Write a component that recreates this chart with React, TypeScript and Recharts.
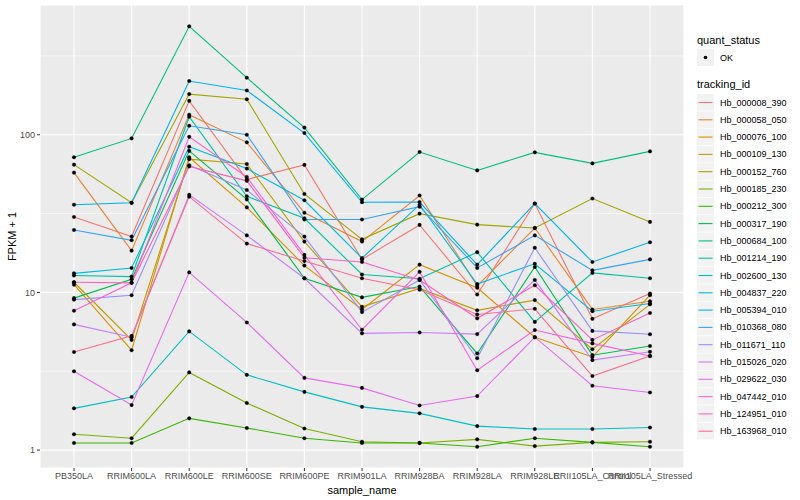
import { LineChart, Line, XAxis, YAxis, CartesianGrid, ReferenceLine } from "recharts";

const samples = [
  "PB350LA",
  "RRIM600LA",
  "RRIM600LE",
  "RRIM600SE",
  "RRIM600PE",
  "RRIM901LA",
  "RRIM928BA",
  "RRIM928LA",
  "RRIM928LE",
  "RRII105LA_Control",
  "RRII105LA_Stressed",
];

const trackingIds = [
  "Hb_000008_390",
  "Hb_000058_050",
  "Hb_000076_100",
  "Hb_000109_130",
  "Hb_000152_760",
  "Hb_000185_230",
  "Hb_000212_300",
  "Hb_000317_190",
  "Hb_000684_100",
  "Hb_001214_190",
  "Hb_002600_130",
  "Hb_004837_220",
  "Hb_005394_010",
  "Hb_010368_080",
  "Hb_011671_110",
  "Hb_015026_020",
  "Hb_029622_030",
  "Hb_047442_010",
  "Hb_124951_010",
  "Hb_163968_010",
];

// ggplot hue palette, 20 levels
const colors = [
  "#F8766D", "#EA8331", "#D89000", "#C09B00", "#A3A500",
  "#7CAE00", "#39B600", "#00BB4E", "#00BF7D", "#00C1A3",
  "#00BFC4", "#00BAE0", "#00B0F6", "#35A2FF", "#9590FF",
  "#C77CFF", "#E76BF3", "#FA62DB", "#FF62BC", "#FF6C91",
];

// FPKM + 1 per sample, same order as samples
const hb000008 = [30.1, 22.6, 164, 52, 64.4, 16.2, 26.8, 9.7, 36.6, 6.8, 9.84];
const hb000058 = [57.5, 18.4, 134, 89.5, 32, 21.0, 41.2, 11.0, 25.6, 7.8, 8.8];
const hb000076 = [11.2, 4.3, 72, 34.6, 14.8, 7.8, 15.0, 10.7, 5.2, 3.9, 9.6];
const hb000109 = [11.6, 5.0, 70, 65.3, 21.0, 8.1, 10.6, 7.7, 8.94, 4.36, 8.4];
const hb000152 = [64.6, 37, 181, 168, 42.1, 21.7, 31.6, 26.9, 25.6, 39.4, 28];
const hb000185 = [1.26, 1.19, 3.11, 1.99, 1.37, 1.13, 1.11, 1.17, 1.06, 1.12, 1.13];
const hb000212 = [1.11, 1.11, 1.59, 1.38, 1.19, 1.11, 1.11, 1.05, 1.19, 1.12, 1.05];
const hb000317 = [9.2, 12.1, 79, 38.9, 12.3, 9.3, 10.9, 4.1, 14.5, 4.0, 4.57];
const hb000684 = [72, 94.8, 487, 230, 111, 38.8, 77.7, 59.4, 77.3, 65.8, 78.4];
const hb001214 = [12.8, 12.6, 130, 40.7, 29.5, 13.0, 12.2, 18.0, 6.5, 13.3, 12.3];
const hb002600 = [1.84, 2.17, 5.66, 3.0, 2.34, 1.88, 1.71, 1.42, 1.36, 1.36, 1.39];
const hb004837 = [13.2, 14.3, 84, 61, 38.4, 16.5, 36, 11.3, 15.2, 7.6, 8.5];
const hb005394 = [36, 37, 219, 191, 102.5, 37.3, 37.4, 15.0, 36.6, 15.6, 20.8];
const hb010368 = [24.9, 21.4, 114, 100, 29, 29, 35, 14.3, 23.0, 13.8, 16.2];
const hb011671 = [9.0, 9.6, 64, 44.6, 22.6, 7.5, 12.0, 3.82, 19.2, 5.7, 5.43];
const hb015026 = [6.27, 5.2, 41.6, 23, 12.3, 5.5, 5.57, 5.44, 12.0, 3.72, 4.2];
const hb029622 = [3.16, 1.93, 13.4, 6.45, 2.87, 2.48, 1.92, 2.2, 5.2, 2.56, 2.32];
const hb047442 = [7.66, 11.5, 97, 54, 17.3, 5.8, 13.5, 3.21, 5.77, 4.75, 3.95];
const hb124951 = [11.6, 11.5, 63, 51, 16.6, 15.6, 12.0, 6.85, 11.1, 5.0, 7.4];
const hb163968 = [4.19, 5.3, 40.5, 20.4, 15.8, 12.3, 10.4, 7.25, 7.87, 2.95, 3.95];

const seriesValues = [
  hb000008, hb000058, hb000076, hb000109, hb000152,
  hb000185, hb000212, hb000317, hb000684, hb001214,
  hb002600, hb004837, hb005394, hb010368, hb011671,
  hb015026, hb029622, hb047442, hb124951, hb163968,
];

const majorBreaks = [1, 10, 100];
const minorBreaks = [3.162, 31.62, 316.2];

const data = samples.map((s, i) => {
  const row: Record<string, string | number> = { sample_name: s };
  trackingIds.forEach((id, k) => {
    row[id] = seriesValues[k][i];
  });
  return row;
});

const font = "'Liberation Sans', Arial, sans-serif";

function Legend() {
  const rowTop = 94;
  const step = 17.3;
  return (
    <svg
      width={110}
      height={500}
      style={{ position: "absolute", left: 690, top: 0, fontFamily: font }}
    >
      <text x={7} y={44} fontSize={11} fill="#000">
        quant_status
      </text>
      <rect x={7} y={49} width={17} height={17} fill="#F2F2F2" />
      <circle cx={15.5} cy={57.5} r={1.8} fill="#000" />
      <text x={30} y={60.5} fontSize={9} fill="#000">
        OK
      </text>
      <text x={7} y={88} fontSize={11} fill="#000">
        tracking_id
      </text>
      {trackingIds.map((id, k) => {
        const y = rowTop + k * step;
        return (
          <g key={id}>
            <rect x={7} y={y} width={17} height={16.6} fill="#F2F2F2" />
            <line x1={8.5} x2={22.5} y1={y + 8.5} y2={y + 8.5} stroke={colors[k]} strokeWidth={1.1} />
            <text x={30} y={y + 11.5} fontSize={9} fill="#000">
              {id}
            </text>
          </g>
        );
      })}
    </svg>
  );
}

export default function App() {
  return (
    <div style={{ position: "relative", width: 800, height: 500, background: "#fff" }}>
      <style>{`body{margin:0}`}</style>
      <LineChart
        width={800}
        height={500}
        data={data}
        margin={{ top: 5, right: 116, bottom: 0, left: 0 }}
        style={{ fontFamily: font }}
      >
        <CartesianGrid fill="#EBEBEB" stroke="#FFFFFF" strokeWidth={1.1} />
        {minorBreaks.map((b) => (
          <ReferenceLine key={b} y={b} stroke="#FFFFFF" strokeWidth={0.55} />
        ))}
        <XAxis
          dataKey="sample_name"
          interval={0}
          padding={{ left: 34, right: 34 }}
          axisLine={false}
          tickLine={{ stroke: "#333333" }}
          tickSize={3}
          tickMargin={2}
          height={32}
          tick={{ fontSize: 9, fill: "#4D4D4D" }}
          label={{ value: "sample_name", position: "insideBottom", offset: 6, fontSize: 11, fill: "#000" }}
        />
        <YAxis
          scale="log"
          domain={[0.77, 665]}
          allowDataOverflow
          ticks={majorBreaks}
          axisLine={false}
          tickLine={{ stroke: "#333333" }}
          tickSize={3}
          tickMargin={2}
          width={40}
          tick={{ fontSize: 9, fill: "#4D4D4D" }}
          label={{
            value: "FPKM + 1",
            angle: -90,
            position: "insideLeft",
            offset: 12,
            fontSize: 11,
            fill: "#000",
            style: { textAnchor: "middle" },
          }}
        />
        {trackingIds.map((id, k) => (
          <Line
            key={id}
            dataKey={id}
            stroke={colors[k]}
            strokeWidth={1.1}
            dot={false}
            activeDot={false}
            isAnimationActive={false}
          />
        ))}
        {trackingIds.map((id) => (
          <Line
            key={id + "_pt"}
            dataKey={id}
            stroke="none"
            dot={{ r: 1.8, fill: "#000", stroke: "#000", strokeWidth: 0.3 }}
            activeDot={false}
            legendType="none"
            isAnimationActive={false}
          />
        ))}
      </LineChart>
      <Legend />
    </div>
  );
}
